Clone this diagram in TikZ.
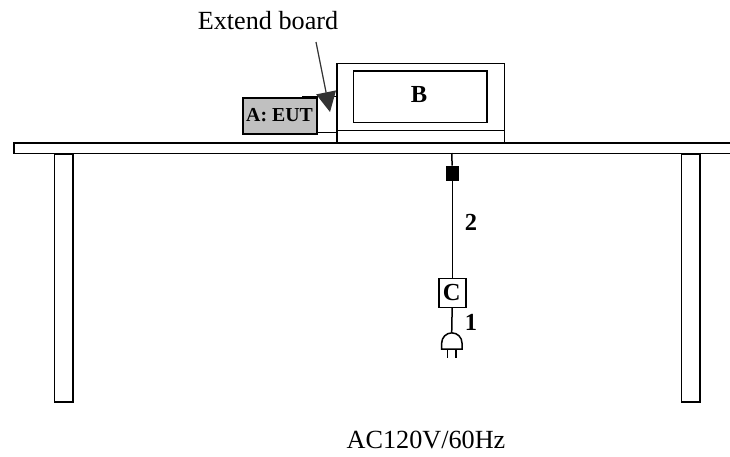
\documentclass[tikz,border=0pt]{standalone}
\usepackage{fontspec}
\setmainfont{Liberation Serif}
\usetikzlibrary{arrows.meta,positioning}
\definecolor{eutgray}{RGB}{192,192,192}
\definecolor{pointgray}{RGB}{51,51,51}
\begin{document}
\begin{tikzpicture}[x=1pt,y=-1pt, line width=1.5pt,
        box/.style={rectangle,draw=black,inner sep=0pt,anchor=north west},
        leg/.style={box,minimum width=18.5pt,minimum height=248pt},
        lbl/.style={font=\fontsize{24.5}{28}\selectfont\bfseries,inner sep=0pt},
        caption/.style={font=\fontsize{26.2}{30}\selectfont,inner sep=0pt,anchor=base},
        pointer/.style={-{Triangle[length=20pt,width=20pt]},color=pointgray,line width=1.2pt}]
        \useasboundingbox (0,0) rectangle (730,456);
        % table
        \node[leg] (legleft) at (53.5,153) {};
        \node[leg] (legright) at (680.7,153) {};
        \node[box,minimum width=760pt,minimum height=10.7pt] (table) at (13,142.2) {};
        % extend board behind the EUT
        \coordinate (boardtl) at (302,96.7);
        \coordinate (boardtr) at (336.3,96.7);
        \coordinate (boardbl) at (316,132.6);
        \coordinate (boardbr) at (336.3,132.6);
        \draw (boardtl) -- (boardtr);
        \draw (boardbl) -- (boardbr);
        % monitor
        \node[box,minimum width=167.4pt,minimum height=79.5pt] (monitor) at (336.3,62.7) {};
        \node[box,minimum width=133.3pt,minimum height=51.7pt] (screen) at (352.7,70) {};
        \node[lbl] (bname) at (419,95) {B};
        \coordinate (standl) at (336.3,130.5);
        \coordinate (standr) at (503.7,130.5);
        \draw (standl) -- (standr);
        % EUT
        \node[box,fill=eutgray,minimum width=74pt,minimum height=35.7pt] (eut) at (242,97.3) {};
        \node[lbl,font=\fontsize{19.8}{22}\selectfont\bfseries] (eutname) at (279.5,115) {A: EUT};
        % label and pointer
        \node[caption] (boardname) at (268,29) {Extend board};
        \coordinate (pointstart) at (316,42);
        \coordinate (pointend) at (330,112);
        \draw[pointer] (pointstart) -- (pointend);
        % power cord
        \coordinate (cordtop) at (451.7,153);
        \node[box,fill=black,minimum width=11.6pt,minimum height=13.3pt] (ferrite) at (445.9,165.7) {};
        \node[box,minimum width=26.7pt,minimum height=29pt] (cbox) at (438.35,277.7) {};
        \node[lbl] (cname) at (451.8,292.5) {C};
        \coordinate (plugtop) at (451.7,332.7);
        \draw (cordtop) -- (ferrite);
        \draw (ferrite) -- (cbox);
        \draw (cbox) -- (plugtop);
        \node[lbl] (cabletwo) at (471,222) {2};
        \node[lbl] (cableone) at (471,322.5) {1};
        % plug
        \draw (441.7,349) -- (441.7,343) arc[start angle=180,end angle=0,radius=10.15pt] -- (462,349) -- cycle;
        \draw (447.3,349) -- (447.3,358);
        \draw (456,349) -- (456,358);
        % supply
        \node[caption] (supply) at (426,448) {AC120V/60Hz};
      \end{tikzpicture}
\end{document}
